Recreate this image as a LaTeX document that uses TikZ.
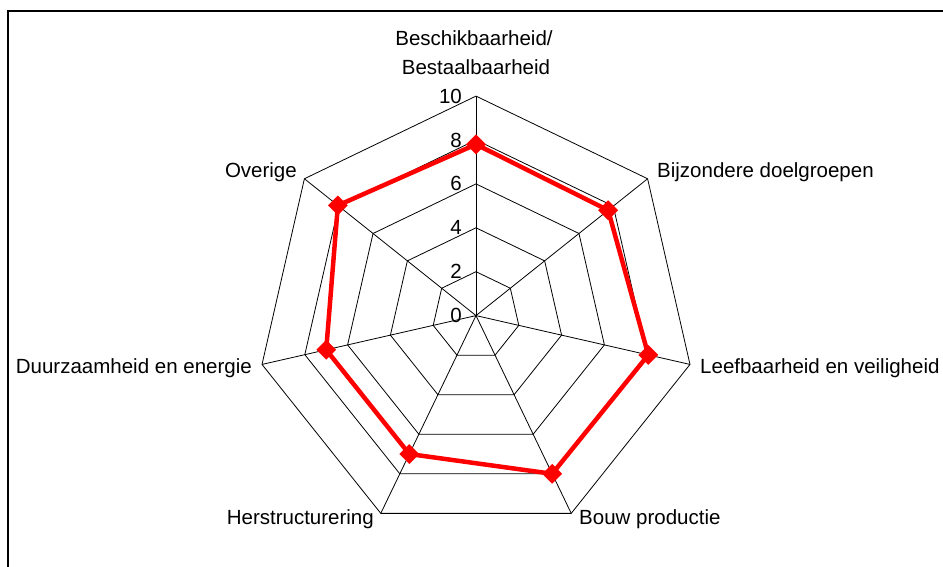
\documentclass[tikz,border=0pt]{standalone}
\usepackage{fontspec}
\setmainfont{Liberation Sans}
\usetikzlibrary{shapes.geometric,calc}
\begin{document}
\begin{tikzpicture}[x=1pt,y=-1pt,
  grid/.style={black,line width=0.8pt,line join=miter},
  frame/.style={black,line width=1.4pt},
  series/.style={red,line width=4.5pt,line join=miter},
  marker/.style={diamond,fill=red,draw=none,inner sep=0pt,minimum width=20pt,minimum height=20pt},
  axislabel/.style={font=\fontsize{20.5}{24}\selectfont,inner sep=0pt},
  ticklabel/.style={font=\fontsize{20.5}{24}\selectfont,inner sep=0pt,anchor=east}]
\useasboundingbox (0,0) rectangle (943,567);
\fill[white] (0,0) rectangle (943,567);
% chart frame (left and top edges)
\draw[frame] (8,580) -- (8,11) -- (960,11);

% radar grid: centre, unit length per score point
\coordinate (O) at (476,315.6);
\def\U{21.95}
\foreach \r in {2,4,...,10}
  \draw[grid] ($(O)+(-90:{\r*\U})$)
    \foreach \k in {1,...,6} { -- ($(O)+({-90+\k*360/7}:{\r*\U})$) } -- cycle;
\foreach \k in {0,...,6}
  \coordinate (v\k) at ($(O)+({-90+\k*360/7}:{10*\U})$);
\foreach \k in {0,...,6}
  \draw[grid] (O) -- (v\k);

% scale values along the vertical axis
\foreach \t in {0,2,4,6,8,10}
  \node[ticklabel] (tick\t) at ($(O)+(-14,{-\t*\U})$) {\t};

% axis labels
\node[axislabel,anchor=base] (lab0a) at (474,46) {Beschikbaarheid/};
\node[axislabel,anchor=base] (lab0b) at (476,75) {Bestaalbaarheid};
\node[axislabel,anchor=base west] (lab1) at (657,178) {Bijzondere doelgroepen};
\node[axislabel,anchor=base west] (lab2) at (700,373) {Leefbaarheid en veiligheid};
\node[axislabel,anchor=base west] (lab3) at (579,524.5) {Bouw productie};
\node[axislabel,anchor=base east] (lab4) at (374,524.5) {Herstructurering};
\node[axislabel,anchor=base east] (lab5) at (252,373) {Duurzaamheid en energie};
\node[axislabel,anchor=base east] (lab6) at (297,178) {Overige};

% data series
\foreach \v [count=\i from 0] in {7.8,7.7,8.05,8.0,7.0,7.0,8.05}
  \coordinate (p\i) at ($(O)+({-90+\i*360/7}:{\v*\U})$);
\draw[series] (p0) -- (p1) -- (p2) -- (p3) -- (p4) -- (p5) -- (p6) -- cycle;
\foreach \i in {0,...,6}
  \node[marker] (m\i) at (p\i) {};
\end{tikzpicture}
\end{document}
